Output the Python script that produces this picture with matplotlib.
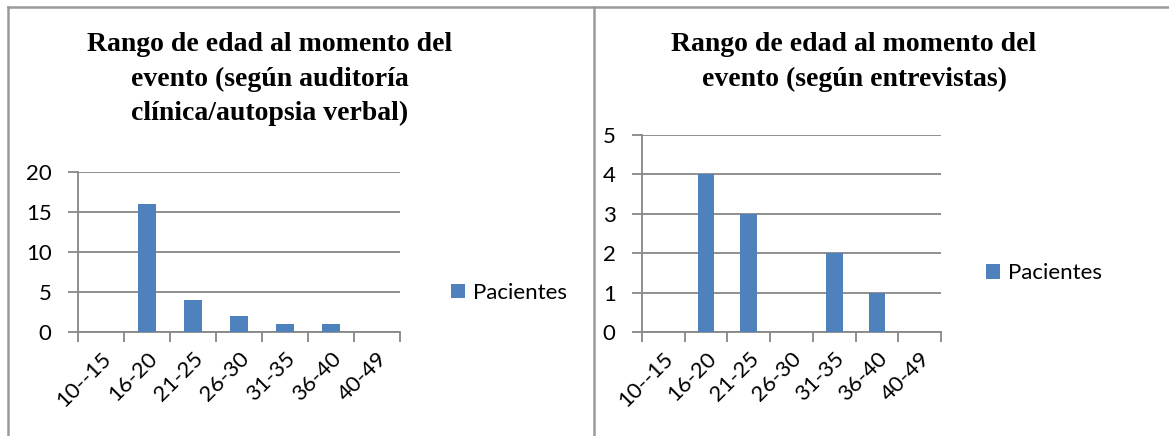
import matplotlib.pyplot as plt
from matplotlib.lines import Line2D

# age ranges and patient counts per source
rangos = ["10--15", "16-20", "21-25", "26-30", "31-35", "36-40", "40-49"]
auditoria = [0, 16, 4, 2, 1, 1, 0]
entrevistas = [0, 4, 3, 0, 2, 1, 0]

titulo_izq = "Rango de edad al momento del\nevento (según auditoría\nclínica/autopsia verbal)"
titulo_der = "Rango de edad al momento del\nevento (según entrevistas)"

BAR = "#4F81BD"
GRID = "#878787"
FRAME = "#9a9a9a"
FS = 16

W, H = 1169, 436
fig = plt.figure(figsize=(W / 100, H / 100), dpi=100)


def px_axes(x0, x1, y_top, y_bot):
    return fig.add_axes([x0 / W, 1 - y_bot / H, (x1 - x0) / W, (y_bot - y_top) / H])


def draw(ax, values, ymax, step, leg_x, leg_y):
    x = list(range(len(rangos)))
    ax.bar(x, values, width=0.39, color=BAR, label="Pacientes", zorder=3)
    ax.set_xlim(-0.5, len(rangos) - 0.5)
    ax.set_ylim(0, ymax)
    ax.set_yticks(range(0, ymax + 1, step))
    ax.yaxis.grid(True, color=GRID, lw=1.3, zorder=0)
    for s in ("top", "right"):
        ax.spines[s].set_visible(False)
    for s in ("left", "bottom"):
        ax.spines[s].set_color(GRID)
        ax.spines[s].set_linewidth(1.3)
    # boundary ticks between categories, labels at centres
    ax.set_xticks([i - 0.5 for i in range(len(rangos) + 1)])
    ax.set_xticklabels([])
    ax.set_xticks(x, minor=True)
    ax.set_xticklabels(rangos, minor=True, rotation=45, ha="right",
                       rotation_mode="anchor", fontsize=FS, family="Lato")
    ax.tick_params(axis="x", which="major", length=7, color=GRID, width=1.3)
    ax.tick_params(axis="x", which="minor", length=0, pad=12)
    ax.tick_params(axis="y", length=7, color=GRID, width=1.3, pad=12)
    for t in ax.get_yticklabels():
        t.set_fontsize(FS)
        t.set_family("Lato")
    ax.legend(loc="center left", bbox_to_anchor=(leg_x, leg_y), frameon=False,
              handlelength=0.65, handleheight=0.65, handletextpad=0.35,
              borderaxespad=0, prop={"family": "Lato", "size": FS})


ax1 = px_axes(78, 400, 172, 332)
draw(ax1, auditoria, 20, 5, 1.13, 0.245)

ax2 = px_axes(642, 941, 135, 332)
draw(ax2, entrevistas, 5, 1, 1.12, 0.3)

tfont = dict(family="Liberation Serif", weight="bold", fontsize=20,
             ha="center", va="top", linespacing=1.5)
fig.text(270 / W, 1 - 32 / H, titulo_izq, **tfont)
fig.text(854 / W, 1 - 32 / H, titulo_der, **tfont)

# table frame around the two charts
for xs, ys in (([8, W], [7, 7]), ([8, 8], [7, H]), ([594, 594], [7, H])):
    fig.add_artist(Line2D([v / W for v in xs], [1 - v / H for v in ys],
                          color=FRAME, lw=1.8))

fig.savefig("out.png", dpi=100)
